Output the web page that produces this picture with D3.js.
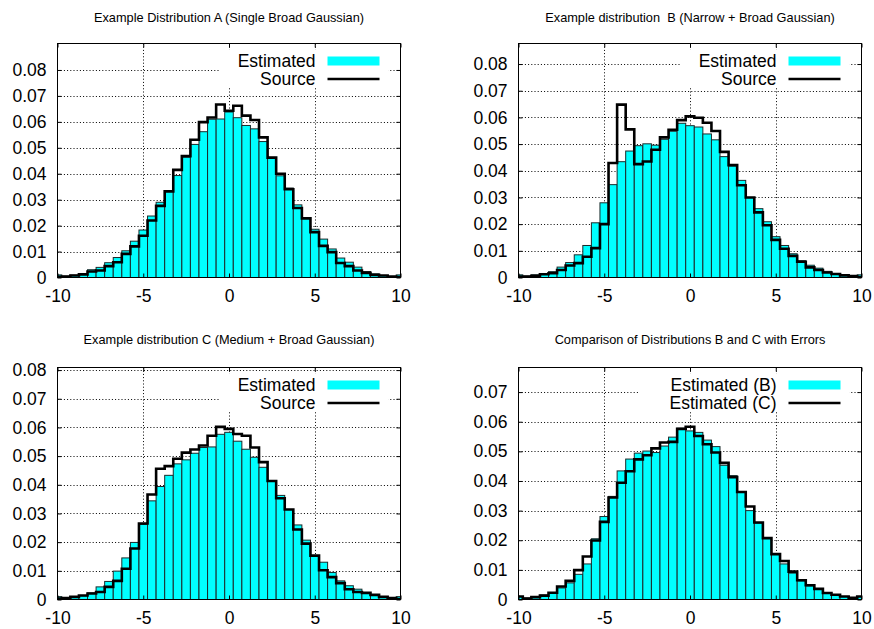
<!DOCTYPE html>
<html>
<head>
<meta charset="utf-8">
<script src="https://cdn.jsdelivr.net/npm/d3@7"></script>
<style>
  html, body { margin: 0; padding: 0; background: #fff; }
  svg { display: block; font-family: "Liberation Sans", Arial, Helvetica, sans-serif; }
</style>
</head>
<body>
<svg id="chart" width="874" height="629"></svg>
<script>
// Histogram bin centres (bin width 0.5)
const binCenters = [-10, -9.5, -9, -8.5, -8, -7.5, -7, -6.5, -6, -5.5, -5, -4.5, -4, -3.5, -3, -2.5, -2, -1.5, -1, -0.5,
  0, 0.5, 1, 1.5, 2, 2.5, 3, 3.5, 4, 4.5, 5, 5.5, 6, 6.5, 7, 7.5, 8, 8.5, 9, 9.5, 10];

const xTicks = [-10, -5, 0, 5, 10];
const yTicks8 = [0, 0.01, 0.02, 0.03, 0.04, 0.05, 0.06, 0.07, 0.08];
const yTicks7 = [0, 0.01, 0.02, 0.03, 0.04, 0.05, 0.06, 0.07];

// Distribution A
const estimatedA = [0.0010, 0.0005, 0.0009, 0.0015, 0.0030, 0.0039, 0.0057, 0.0077, 0.0103, 0.0140,
  0.0183, 0.0237, 0.0290, 0.0332, 0.0393, 0.0464, 0.0513, 0.0562, 0.0610, 0.0611,
  0.0638, 0.0616, 0.0586, 0.0573, 0.0524, 0.0463, 0.0392, 0.0345, 0.0280, 0.0231,
  0.0186, 0.0148, 0.0110, 0.0075, 0.0059, 0.0040, 0.0023, 0.0014, 0.0007, 0.0003, 0.0010];
const sourceA = [0.0003, 0.0004, 0.0008, 0.0012, 0.0023, 0.0027, 0.0044, 0.0059, 0.0091, 0.0120,
  0.0161, 0.0220, 0.0276, 0.0332, 0.0415, 0.0468, 0.0531, 0.0599, 0.0617, 0.0667,
  0.0643, 0.0662, 0.0624, 0.0607, 0.0540, 0.0462, 0.0400, 0.0340, 0.0268, 0.0228,
  0.0175, 0.0122, 0.0098, 0.0056, 0.0044, 0.0027, 0.0018, 0.0010, 0.0008, 0.0004, 0.0002];

// Distribution B
const estimatedB = [0.0010, 0.0005, 0.0010, 0.0015, 0.0022, 0.0039, 0.0056, 0.0085, 0.0120, 0.0205,
  0.0280, 0.0348, 0.0434, 0.0474, 0.0494, 0.0501, 0.0496, 0.0518, 0.0548, 0.0578,
  0.0569, 0.0564, 0.0538, 0.0516, 0.0453, 0.0418, 0.0364, 0.0300, 0.0258, 0.0209,
  0.0153, 0.0120, 0.0089, 0.0063, 0.0046, 0.0035, 0.0023, 0.0015, 0.0010, 0.0005, 0.0010];
const sourceB = [0.0004, 0.0004, 0.0006, 0.0012, 0.0016, 0.0028, 0.0045, 0.0054, 0.0078, 0.0110,
  0.0200, 0.0429, 0.0648, 0.0555, 0.0425, 0.0435, 0.0479, 0.0525, 0.0554, 0.0590,
  0.0604, 0.0599, 0.0580, 0.0549, 0.0471, 0.0421, 0.0346, 0.0300, 0.0244, 0.0196,
  0.0141, 0.0108, 0.0081, 0.0059, 0.0038, 0.0028, 0.0019, 0.0013, 0.0008, 0.0005, 0.0002];

// Distribution C
const estimatedC = [0.0010, 0.0003, 0.0008, 0.0013, 0.0023, 0.0044, 0.0063, 0.0099, 0.0145, 0.0199,
  0.0262, 0.0344, 0.0394, 0.0433, 0.0473, 0.0487, 0.0510, 0.0530, 0.0532, 0.0576,
  0.0583, 0.0552, 0.0524, 0.0496, 0.0461, 0.0413, 0.0363, 0.0314, 0.0260, 0.0207,
  0.0153, 0.0130, 0.0094, 0.0065, 0.0048, 0.0036, 0.0022, 0.0016, 0.0010, 0.0006, 0.0010];
const sourceC = [0.0003, 0.0005, 0.0009, 0.0014, 0.0021, 0.0026, 0.0044, 0.0065, 0.0107, 0.0178,
  0.0265, 0.0366, 0.0456, 0.0465, 0.0491, 0.0512, 0.0523, 0.0537, 0.0571, 0.0602,
  0.0595, 0.0577, 0.0571, 0.0530, 0.0479, 0.0413, 0.0353, 0.0314, 0.0244, 0.0195,
  0.0153, 0.0102, 0.0078, 0.0057, 0.0036, 0.0026, 0.0023, 0.0016, 0.0009, 0.0005, 0.0002];

const halfBin = 0.25;
const FILL = "#00ffff";
const labelFont = 17.5;
const titleFont = 12.75;

const panels = [
  { title: "Example Distribution A (Single Broad Gaussian)", bars: estimatedA, line: sourceA,
    labels: ["Estimated", "Source"], yTicks: yTicks8, yMax: 0.0902,
    left: 57.5, right: 400.5, top: 43.5, bottom: 277.5, titleY: 18 },
  { title: "Example distribution  B (Narrow + Broad Gaussian)", bars: estimatedB, line: sourceB,
    labels: ["Estimated", "Source"], yTicks: yTicks8, yMax: 0.0877,
    left: 518.5, right: 861.5, top: 43.5, bottom: 277.5, titleY: 18 },
  { title: "Example distribution C (Medium + Broad Gaussian)", bars: estimatedC, line: sourceC,
    labels: ["Estimated", "Source"], yTicks: yTicks8, yMax: 0.0809,
    left: 57.5, right: 400.5, top: 367.5, bottom: 599.5, titleY: 340 },
  { title: "Comparison of Distributions B and C with Errors", bars: estimatedB, line: estimatedC,
    labels: ["Estimated (B)", "Estimated (C)"], yTicks: yTicks7, yMax: 0.0783,
    left: 518.5, right: 861.5, top: 367.5, bottom: 599.5, titleY: 340 }
];

const svg = d3.select("#chart");
const defs = svg.append("defs");

const fmtY = v => (v === 0 ? "0" : v.toFixed(2));
const fmtX = v => String(v);

function styleAxis(sel, fontSize) {
  sel.select(".domain").remove();
  sel.selectAll(".tick line").attr("stroke", "#000").attr("stroke-width", 1);
  sel.selectAll(".tick text")
    .attr("fill", "#000")
    .style("font-family", '"Liberation Sans", Arial, Helvetica, sans-serif')
    .style("font-size", fontSize + "px");
}

panels.forEach((p, i) => {
  const g = svg.append("g");
  const x = d3.scaleLinear().domain([-10, 10]).range([p.left, p.right]);
  const y = d3.scaleLinear().domain([0, p.yMax]).range([p.bottom, p.top]);

  const clipId = "plot-clip-" + i;
  defs.append("clipPath").attr("id", clipId).append("rect")
    .attr("x", p.left).attr("y", p.top)
    .attr("width", p.right - p.left).attr("height", p.bottom - p.top);

  // title
  g.append("text")
    .attr("x", (p.left + p.right) / 2).attr("y", p.titleY)
    .attr("dy", "0.35em")
    .attr("text-anchor", "middle")
    .style("font-size", titleFont + "px")
    .style("white-space", "pre")
    .attr("fill", "#000")
    .text(p.title);

  // dotted grid
  const grid = g.append("g").attr("stroke", "#000").attr("stroke-width", 1)
    .attr("stroke-dasharray", "1,2.2");
  grid.selectAll("line.h").data(p.yTicks.filter(v => v > 0)).join("line")
    .attr("class", "h")
    .attr("x1", p.left).attr("x2", p.right)
    .attr("y1", d => Math.round(y(d)) + 0.5).attr("y2", d => Math.round(y(d)) + 0.5);
  grid.selectAll("line.v").data(xTicks.filter(v => v > -10 && v < 10)).join("line")
    .attr("class", "v")
    .attr("x1", d => Math.round(x(d)) + 0.5).attr("x2", d => Math.round(x(d)) + 0.5)
    .attr("y1", p.top).attr("y2", p.bottom);

  // legend geometry
  const textRight = p.left + 258;
  const sampleX0 = textRight + 12, sampleX1 = textRight + 64;
  const row1 = p.top + 17.5, row2 = row1 + 18;
  const maxChars = d3.max(p.labels, s => s.length);
  g.append("rect")
    .attr("x", textRight - maxChars * 10.5 - 1)
    .attr("y", row1 - 11)
    .attr("width", sampleX1 + 9 - (textRight - maxChars * 10.5 - 1))
    .attr("height", row2 + 8 - (row1 - 11))
    .attr("fill", "#fff");

  // histogram bars
  const barData = binCenters.map((c, k) => ({ c, v: p.bars[k] }));
  g.append("g").attr("clip-path", `url(#${clipId})`)
    .selectAll("rect").data(barData).join("rect")
    .attr("x", d => x(d.c - halfBin))
    .attr("width", d => x(d.c + halfBin) - x(d.c - halfBin))
    .attr("y", d => y(d.v))
    .attr("height", d => y(0) - y(d.v))
    .attr("fill", FILL)
    .attr("stroke", "#1c2a2a")
    .attr("stroke-width", 1);

  // step outline
  const lineData = binCenters.map((c, k) => ({ c, v: p.line[k] }));
  const stepLine = d3.line().x(d => x(d.c)).y(d => y(d.v)).curve(d3.curveStep);
  g.append("path")
    .attr("clip-path", `url(#${clipId})`)
    .datum(lineData)
    .attr("d", stepLine)
    .attr("fill", "none")
    .attr("stroke", "#000")
    .attr("stroke-width", 2.6)
    .attr("stroke-linejoin", "miter");

  // legend entries
  const lg = g.append("g").style("font-size", labelFont + "px").attr("fill", "#000");
  lg.append("text").attr("x", textRight).attr("y", row1).attr("dy", "0.35em")
    .attr("text-anchor", "end").text(p.labels[0]);
  lg.append("text").attr("x", textRight).attr("y", row2).attr("dy", "0.35em")
    .attr("text-anchor", "end").text(p.labels[1]);
  g.append("rect")
    .attr("x", sampleX0).attr("y", row1 - 4.5)
    .attr("width", sampleX1 - sampleX0).attr("height", 9)
    .attr("fill", FILL);
  g.append("line")
    .attr("x1", sampleX0).attr("x2", sampleX1)
    .attr("y1", row2).attr("y2", row2)
    .attr("stroke", "#000").attr("stroke-width", 2.6);

  // axes with inward ticks on all four sides
  const yl = g.append("g").attr("transform", `translate(${p.left},0)`)
    .call(d3.axisLeft(y).tickValues(p.yTicks).tickFormat(fmtY).tickSize(-4).tickPadding(11));
  styleAxis(yl, labelFont);
  const yr = g.append("g").attr("transform", `translate(${p.right},0)`)
    .call(d3.axisRight(y).tickValues(p.yTicks).tickFormat("").tickSize(-4));
  styleAxis(yr, labelFont);
  const xb = g.append("g").attr("transform", `translate(0,${p.bottom})`)
    .call(d3.axisBottom(x).tickValues(xTicks).tickFormat(fmtX).tickSize(-4).tickPadding(12.5));
  styleAxis(xb, labelFont);
  const xt = g.append("g").attr("transform", `translate(0,${p.top})`)
    .call(d3.axisTop(x).tickValues(xTicks).tickFormat("").tickSize(-4));
  styleAxis(xt, labelFont);

  // frame
  g.append("rect")
    .attr("x", p.left).attr("y", p.top)
    .attr("width", p.right - p.left).attr("height", p.bottom - p.top)
    .attr("fill", "none").attr("stroke", "#000").attr("stroke-width", 1);
});
</script>
</body>
</html>
